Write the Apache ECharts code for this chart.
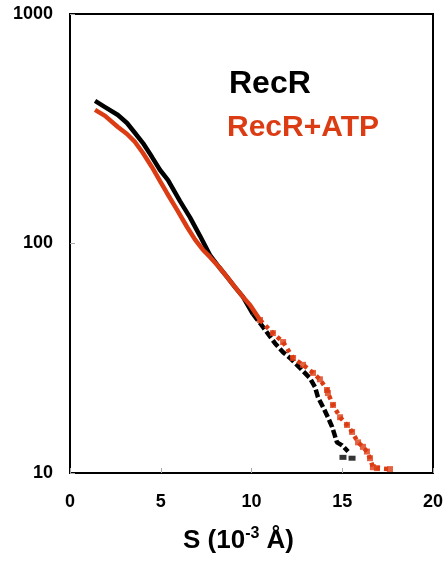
<!DOCTYPE html>
<html>
<head>
<meta charset="utf-8">
<script src="https://cdn.jsdelivr.net/npm/echarts@6/dist/echarts.min.js"></script>
<style>html,body{margin:0;padding:0;background:#fff;}#c{width:448px;height:564px;}</style>
</head>
<body>
<div id="c"></div>
<script>
// X tick values and Y tick labels
var xTicks = [0, 5, 10, 15, 20];
var yTicks = [10, 100, 1000];

// RecR (black): dense part and sparse tail [S, intensity]
var recrDense = [[1.38,418],[1.93,393],[2.64,363],[3.14,335],[3.58,303],[4.02,274],[4.52,238],[4.96,209],[5.40,189],[6.06,153],[6.61,130],[7.16,108],[7.71,89],[8.21,79],[8.65,71.5],[9.09,64.6],[9.53,58.5],[10.08,49.3]];
var recrTail = [[10.08,49.3],[10.63,43.3],[11.29,36.8],[11.74,33.6],[12.12,31.7],[12.67,28.7],[13.22,25.9],[13.50,23.7],[13.66,21.4],[13.94,19.4],[14.21,17.5],[14.44,15.9],[14.71,13.6],[14.99,13.2],[15.32,12.4]];
var recrTailDots = [[15.04,11.7],[15.54,11.6]];

// RecR+ATP (red)
var atpDense = [[1.38,382],[1.93,360],[2.64,322],[3.14,300],[3.58,277],[4.02,248],[4.52,215],[4.96,187],[5.34,166],[5.90,140],[6.45,118],[6.89,104],[7.33,93.7],[7.71,87.4],[8.21,79],[8.65,71.5],[9.09,64.6],[9.53,58.5],[9.92,54.0]];
var atpTail = [[10.47,46.4],[11.18,40.7],[11.74,37.2],[12.29,31.7],[12.84,29.6],[13.39,27.3],[13.77,25.6],[14.16,23.0],[14.21,22.3],[14.49,19.8],[14.88,17.5],[15.26,16.2],[15.54,15.1],[15.87,13.6],[16.14,13.0],[16.36,12.4],[16.53,11.6],[16.69,10.6],[16.91,10.5],[17.63,10.4]];

var BLACK = '#000000', RED = '#dc3c14';
var FONT = '"Liberation Sans", Arial, sans-serif';
var chart = echarts.init(document.getElementById('c'));
var lbl = {fontFamily:FONT, fontWeight:'bold', fontSize:18, color:'#000'};
chart.setOption({
  animation:false,
  grid:{left:70,right:15,top:14,bottom:91,show:true,borderColor:'#000',borderWidth:2,backgroundColor:'transparent'},
  xAxis:{type:'value',min:xTicks[0],max:xTicks[xTicks.length-1],interval:5,
    axisLine:{lineStyle:{color:'#000',width:2}},
    axisTick:{inside:true,length:5,lineStyle:{color:'#aaa'}},
    splitLine:{show:false},
    axisLabel:Object.assign({margin:20,formatter:function(v){return String(v);}},lbl)},
  yAxis:{type:'log',logBase:10,min:yTicks[0],max:yTicks[yTicks.length-1],
    axisLine:{show:true,lineStyle:{color:'#000',width:2}},
    axisTick:{show:true,inside:true,length:5,lineStyle:{color:'#aaa'}},
    splitLine:{show:false},minorTick:{show:false},
    axisLabel:Object.assign({margin:17,formatter:function(v){return String(Math.round(v));}},lbl)},
  series:[
    {type:'line',data:recrDense,symbol:'none',lineStyle:{color:BLACK,width:4.5},z:2},
    {type:'line',data:recrTail,symbol:'none',lineStyle:{color:BLACK,width:4.5,type:[8,3]},z:2},
    {type:'scatter',data:recrTailDots,symbol:'rect',symbolSize:[7,5],itemStyle:{color:BLACK},z:2},
    {type:'line',data:atpDense.concat([atpTail[0]]),symbol:'none',lineStyle:{color:RED,width:4.5},z:3},
    {type:'scatter',data:atpTail,symbol:'rect',symbolSize:6,itemStyle:{color:RED},z:3},
    {type:'line',data:atpTail,symbol:'none',lineStyle:{color:RED,width:4.5,type:[4,4]},z:3}
  ],
  graphic:[
    {type:'text',left:229,top:68,style:{text:'RecR',fill:BLACK,font:'bold 32px ' + FONT}},
    {type:'text',left:227,top:113,style:{text:'RecR+ATP',fill:RED,font:'bold 30px ' + FONT}},
    {type:'text',left:183,top:526,style:{
      text:'{m|S (10}{s|-3}{m| Å)}',
      rich:{m:{fontFamily:FONT,fontWeight:'bold',fontSize:26,lineHeight:34,fill:'#000',verticalAlign:'bottom'},
            s:{fontFamily:FONT,fontWeight:'bold',fontSize:16,lineHeight:34,fill:'#000',verticalAlign:'bottom',padding:[0,0,12,0]}}}}
  ]
});
</script>
</body>
</html>
